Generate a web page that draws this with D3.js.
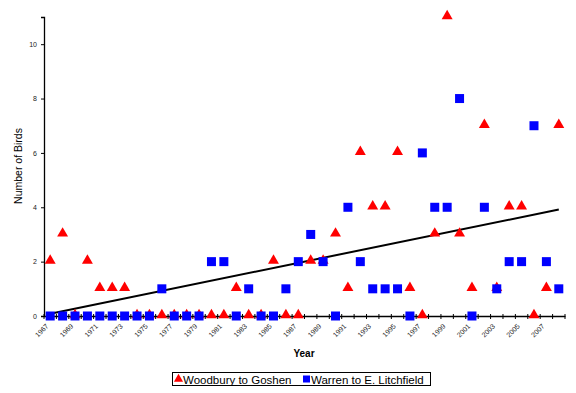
<!DOCTYPE html>
<html lang="en">
<head>
  <meta charset="UTF-8">
  <title>Birds per year</title>
  <script src="https://d3js.org/d3.v7.min.js"></script>
  <style>
    body { margin: 0; background: #fff; }
    svg { font-family: "Liberation Sans", Arial, sans-serif; display: block; }
  </style>
</head>
<body>
  <div id="chart"></div>
  <script>
    // years on the category axis
    const years = d3.range(1967, 2009);
    // counts, one per year
    const woodbury = [2, 3, 0, 2, 1, 1, 1, 0, 0, 0, 0, 0, 0, 0, 0, 1, 0, 0, 2, 0, 0,
      2, 2, 3, 1, 6, 4, 4, 6, 1, 0, 3, 11, 3, 1, 7, 1, 4, 4, 0, 1, 7];
    const warren = [0, 0, 0, 0, 0, 0, 0, 0, 0, 1, 0, 0, 0, 2, 2, 0, 1, 0, 0, 1, 2,
      3, 2, 0, 4, 2, 1, 1, 1, 0, 6, 4, 4, 8, 0, 4, 1, 2, 2, 7, 2, 1];
    const yTicks = [0, 2, 4, 6, 8, 10];
    const labelYears = years.filter((d, i) => i % 2 === 0);
    const seriesNames = ["Woodbury to Goshen", "Warren to E. Litchfield"];

    const W = 576, H = 393;
    const plotL = 44, plotR = 565, plotT = 17, plotB = 316;

    const svg = d3.select("#chart").append("svg")
      .attr("width", W)
      .attr("height", H);

    const x = d3.scaleBand().domain(years).range([plotL, plotR]).padding(0);
    const cx = d => x(d) + x.bandwidth() / 2;
    const y = d3.scaleLinear().domain([0, 11]).range([plotB, plotT]);

    //y axis
    const yAxis = svg.append("g")
      .attr("transform", `translate(${plotL},0)`)
      .call(d3.axisLeft(y).tickValues(yTicks).tickSize(3).tickPadding(4));
    yAxis.select(".domain").attr("stroke", "#000").attr("stroke-width", 1.3);
    yAxis.selectAll("text").attr("font-size", 7).attr("fill", "#222")
      .attr("font-family", "Liberation Sans, Arial, sans-serif");

    //x axis: labels every other year, ticks at category boundaries
    const xAxis = svg.append("g")
      .attr("transform", `translate(0,${plotB})`)
      .call(d3.axisBottom(x).tickValues(labelYears).tickSize(0));
    xAxis.select(".domain").attr("stroke", "#000").attr("stroke-width", 1.3);
    xAxis.selectAll("text")
      .attr("font-size", 7)
      .attr("fill", "#222")
      .attr("font-family", "Liberation Sans, Arial, sans-serif")
      .attr("text-anchor", "end")
      .attr("x", 0)
      .attr("y", 0)
      .attr("dy", "0.35em")
      .attr("transform", "translate(-3,9) rotate(-45)");

    svg.append("g").selectAll("line")
      .data(years.concat([null]))
      .enter().append("line")
      .attr("x1", (d, i) => plotL + i * x.bandwidth())
      .attr("x2", (d, i) => plotL + i * x.bandwidth())
      .attr("y1", plotB - 2)
      .attr("y2", plotB + 3)
      .attr("stroke", "#000")
      .attr("stroke-width", 1);

    //linear trend of Woodbury series
    const n = years.length;
    const mx = d3.mean(years), my = d3.mean(woodbury);
    let sxy = 0, sxx = 0;
    years.forEach((yr, i) => {
      sxy += (yr - mx) * (woodbury[i] - my);
      sxx += (yr - mx) * (yr - mx);
    });
    const slope = sxy / sxx;
    const intercept = my - slope * mx;
    const ends = [years[0], years[n - 1]];
    svg.append("line")
      .attr("x1", cx(ends[0]))
      .attr("y1", y(intercept + slope * ends[0]))
      .attr("x2", cx(ends[1]))
      .attr("y2", y(intercept + slope * ends[1]))
      .attr("stroke", "#000")
      .attr("stroke-width", 2);

    //markers
    const tri = d3.symbol().type(d3.symbolTriangle).size(52);
    svg.append("g").selectAll("path")
      .data(years)
      .enter().append("path")
      .attr("d", tri)
      .attr("transform", (d, i) => `translate(${cx(d)},${y(woodbury[i]) - 1})`)
      .attr("fill", "#ff0000");

    svg.append("g").selectAll("rect")
      .data(years)
      .enter().append("rect")
      .attr("x", d => cx(d) - 4.5)
      .attr("y", (d, i) => y(warren[i]) - 4.5)
      .attr("width", 9)
      .attr("height", 9)
      .attr("fill", "#0000ff");

    //axis titles
    svg.append("text")
      .attr("transform", "translate(22,166) rotate(-90)")
      .attr("text-anchor", "middle")
      .attr("font-size", 10.5)
      .text("Number of Birds");
    svg.append("text")
      .attr("x", 304)
      .attr("y", 357)
      .attr("text-anchor", "middle")
      .attr("font-size", 10)
      .attr("font-weight", "bold")
      .text("Year");

    //legend
    const legend = svg.append("g");
    legend.append("rect")
      .attr("x", 172.5).attr("y", 372.5)
      .attr("width", 258).attr("height", 13)
      .attr("fill", "#fff").attr("stroke", "#000").attr("stroke-width", 1);
    legend.append("path")
      .attr("d", d3.symbol().type(d3.symbolTriangle).size(36))
      .attr("transform", "translate(178.5,379)")
      .attr("fill", "#ff0000");
    legend.append("text")
      .attr("x", 183).attr("y", 383.5)
      .attr("font-size", 11.5)
      .text(seriesNames[0]);
    legend.append("rect")
      .attr("x", 303).attr("y", 375.5)
      .attr("width", 7).attr("height", 7)
      .attr("fill", "#0000ff");
    legend.append("text")
      .attr("x", 311).attr("y", 383.5)
      .attr("font-size", 11.5)
      .text(seriesNames[1]);
  </script>
</body>
</html>
